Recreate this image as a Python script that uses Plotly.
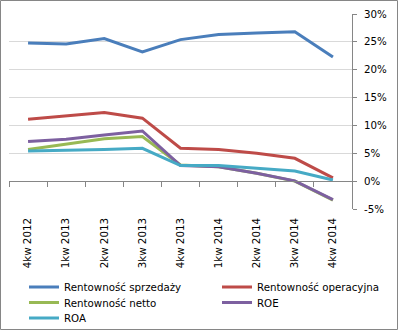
import plotly.graph_objects as go

categories = ["4kw 2012", "1kw 2013", "2kw 2013", "3kw 2013", "4kw 2013",
              "1kw 2014", "2kw 2014", "3kw 2014", "4kw 2014"]
rent_sprzedazy = [24.8, 24.6, 25.6, 23.2, 25.4, 26.3, 26.6, 26.8, 22.3]
rent_operacyjna = [11.1, 11.7, 12.3, 11.3, 5.9, 5.7, 5.0, 4.1, 0.6]
rent_netto = [5.7, 6.6, 7.6, 8.0, 2.9, 2.6, 1.4, 0.0, -3.4]
roe = [7.1, 7.5, 8.3, 9.0, 2.8, 2.6, 1.4, 0.05, -3.3]
roa = [5.4, 5.5, 5.7, 5.9, 2.8, 2.8, 2.3, 1.8, 0.2]
y_ticks = [-5, 0, 5, 10, 15, 20, 25, 30]

series = [
    ("Rentowność sprzedaży", rent_sprzedazy, "#4A7EBB"),
    ("Rentowność operacyjna", rent_operacyjna, "#BE4B48"),
    ("Rentowność netto", rent_netto, "#98B954"),
    ("ROE", roe, "#7D60A0"),
    ("ROA", roa, "#46AAC5"),
]

W, H = 398, 330
ml, mr, mt, mb = 9, 46, 14, 121
pw, ph = W - ml - mr, H - mt - mb

font = dict(family="DejaVu Sans", size=10.25, color="#000000")

# legend slot (column text start px, row center px) for each series
legend_cols = [64, 257]
legend_rows = [287, 302.5, 318]
slots = [(0, 0), (1, 0), (0, 1), (1, 1), (0, 2)]

fig = go.Figure()
legend_layout = {}
for i, ((name, vals, col), (c, r)) in enumerate(zip(series, slots)):
    lname = "legend" if i == 0 else f"legend{i + 1}"
    fig.add_trace(go.Scatter(x=categories, y=vals, name=name, mode="lines",
                             line=dict(color=col, width=3), legend=lname))
    left = legend_cols[c] - 40
    top = legend_rows[r] - 14.5
    legend_layout[lname] = dict(
        x=(left - ml) / pw, xanchor="left",
        y=-(top - (mt + ph)) / ph, yanchor="top",
        font=font, itemwidth=30, bgcolor="rgba(0,0,0,0)",
        borderwidth=0)

fig.update_layout(
    width=W, height=H,
    margin=dict(l=ml, r=mr, t=mt, b=mb, pad=0, autoexpand=False),
    paper_bgcolor="white", plot_bgcolor="white",
    font=font,
    showlegend=True,
    xaxis=dict(type="category", range=[-0.5, 8.5], tickangle=-90,
               showgrid=False, showline=False, ticks="", zeroline=False,
               tickfont=font, ticklabelstandoff=6, automargin=False),
    xaxis2=dict(type="category", range=[-0.5, 8.5], overlaying="x",
                anchor="free", position=5 / 35, side="bottom",
                showline=True, linecolor="#868686", linewidth=1,
                ticks="outside", ticklen=5, tickcolor="#868686",
                tickson="boundaries", showticklabels=False, showgrid=False),
    yaxis=dict(side="right", range=[-5, 30], tickvals=y_ticks,
               ticktext=[f"{v}%" for v in y_ticks],
               showgrid=True, gridcolor="#D9D9D9", gridwidth=1,
               showline=True, linecolor="#868686", linewidth=1,
               ticks="outside", ticklen=4, tickcolor="#868686",
               zeroline=False, tickfont=font, ticklabelstandoff=5,
               automargin=False),
    **legend_layout,
)
fig.add_trace(go.Scatter(x=categories, y=[None] * len(categories), xaxis="x2",
                         showlegend=False, hoverinfo="skip"))

fig.add_shape(type="rect", xref="paper", yref="paper",
              x0=-(ml - 0.5) / pw, x1=1 + (mr - 0.5) / pw,
              y0=-(mb - 0.5) / ph, y1=1 + (mt - 0.5) / ph,
              line=dict(color="#868686", width=1), layer="below")

fig.write_html("out.html")
